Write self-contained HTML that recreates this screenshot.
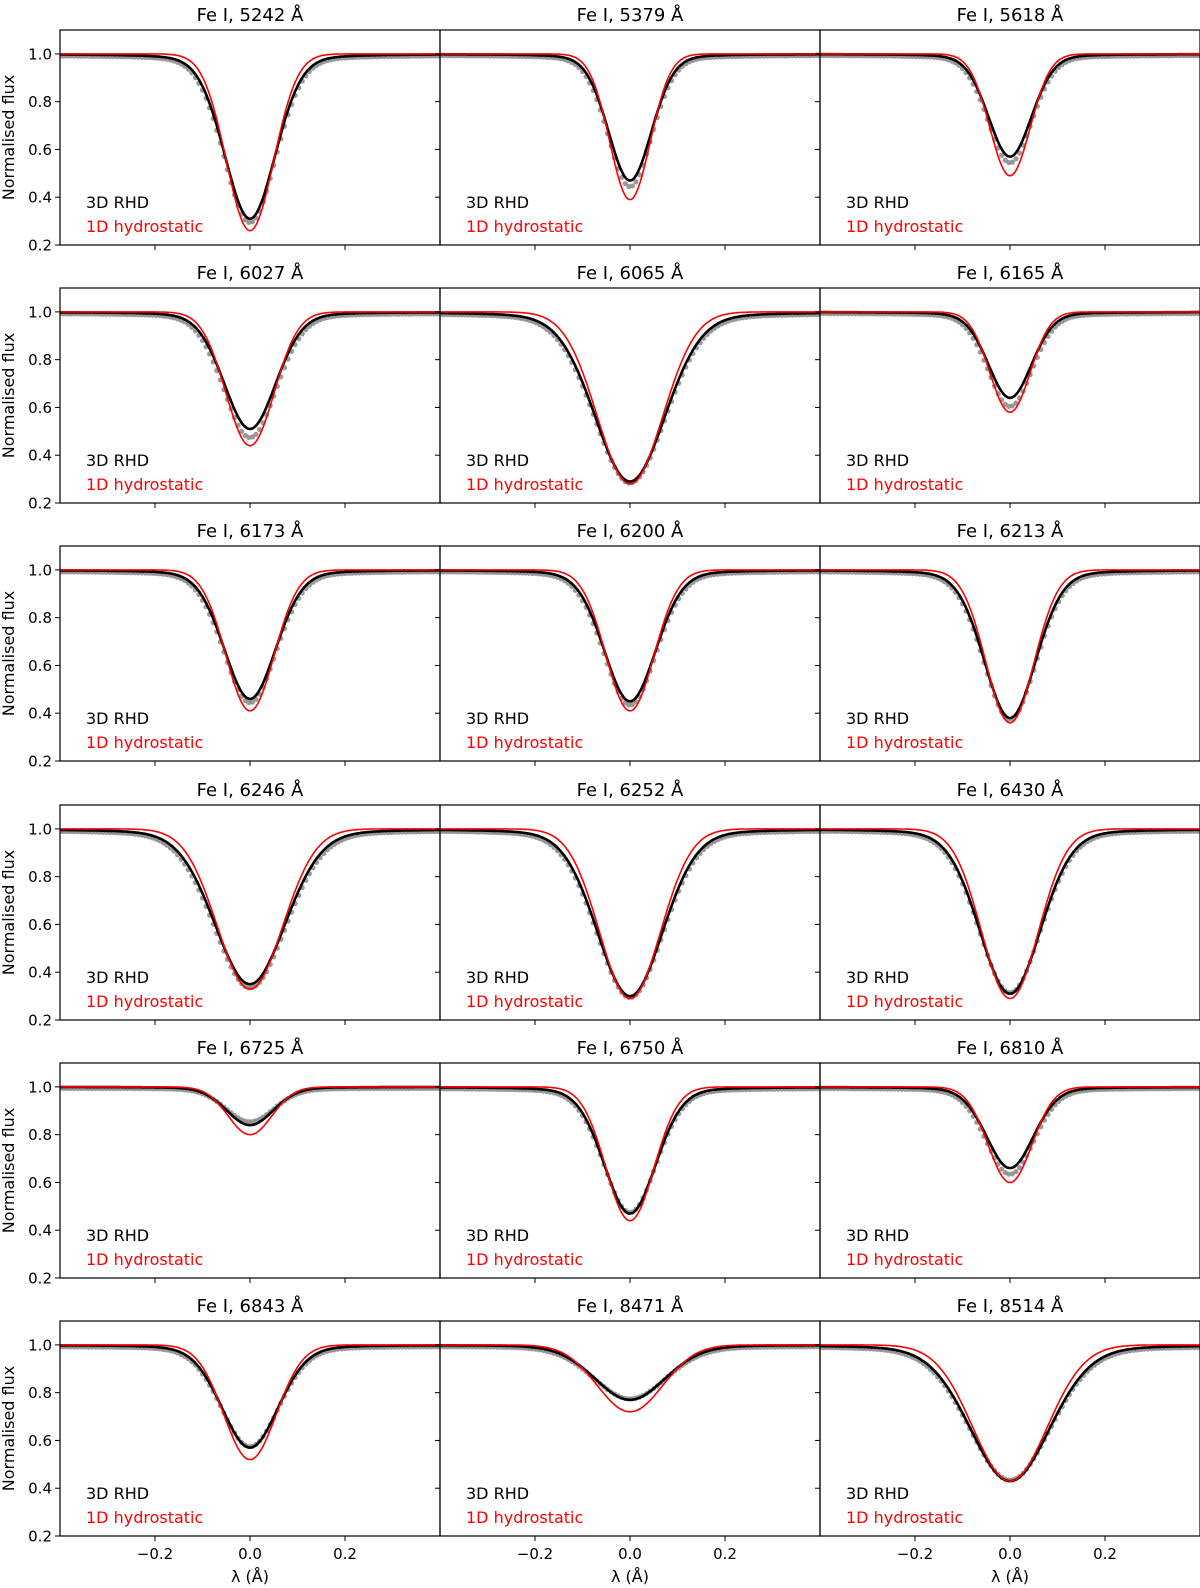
<!DOCTYPE html>
<html><head><meta charset="utf-8"><style>
html,body{margin:0;padding:0;background:#fff}
svg{display:block;font-family:"DejaVu Sans","Liberation Sans",sans-serif}
</style></head><body>
<svg id="fig" width="1200" height="1588" viewBox="0 0 1200 1588" xmlns="http://www.w3.org/2000/svg"></svg>
<script>
const lineLabels=["5242","5379","5618","6027","6065","6165","6173","6200","6213","6246","6252","6430","6725","6750","6810","6843","8471","8514"];
const minBlack=[0.31,0.47,0.57,0.51,0.29,0.64,0.46,0.45,0.38,0.35,0.30,0.31,0.84,0.47,0.66,0.57,0.77,0.43];
const minRed=[0.26,0.39,0.49,0.44,0.28,0.58,0.41,0.41,0.36,0.33,0.29,0.29,0.80,0.44,0.60,0.52,0.72,0.43];
const minGrey=[0.30,0.45,0.55,0.48,0.29,0.61,0.45,0.44,0.38,0.34,0.30,0.32,0.86,0.48,0.64,0.58,0.78,0.44];
const widthBlack=[0.054,0.046,0.046,0.055,0.075,0.046,0.055,0.055,0.055,0.075,0.070,0.065,0.050,0.055,0.050,0.060,0.075,0.085];
const yTicks=[0.2,0.4,0.6,0.8,1.0];
const xTicks=[-0.2,0.0,0.2];
const yTickLabels=["0.2","0.4","0.6","0.8","1.0"];
const xTickLabels=["\u22120.2","0.0","0.2"];

const NS="http://www.w3.org/2000/svg";
const svg=document.getElementById('fig');
const colX=[60,440,820], colW=380, rowY=[30,288,546,805,1063,1321], rowH=215;
function mk(tag,attrs,parent){const e=document.createElementNS(NS,tag);for(const k in attrs)e.setAttribute(k,attrs[k]);(parent||svg).appendChild(e);return e;}
function prof(x,mn,s,eta){const d=1-mn;const G=Math.exp(-x*x/(2*s*s));const L=1/(1+x*x/(1.4*s*s));return 1-d*((1-eta)*G+eta*L);}

for(let i=0;i<18;i++){
  const c=i%3,r=Math.floor(i/3);
  const X0=colX[c],Y0=rowY[r];
  const sx=v=>X0+(v+0.4)/0.8*colW;
  const sy=v=>Y0+(1.1-v)/0.9*rowH;
  const g=mk('g',{});
  
  
  const clipId='clip'+i;
  const cp=mk('clipPath',{id:clipId},g);mk('rect',{x:X0,y:Y0,width:colW,height:rowH},cp);
  const t=mk('text',{x:X0+colW/2,y:Y0-9,'text-anchor':'middle','font-size':18},g);
  t.textContent='Fe I, '+lineLabels[i]+' \u00C5';
  
  
  const obs=mk('g',{'clip-path':'url(#'+clipId+')',fill:'#888','fill-opacity':0.85},g);
  
  
  const sB=widthBlack[i], sR=sB*0.92;
  for(let x=-0.4;x<=0.4;x+=0.0075){
    let v=prof(x,minGrey[i],sB*1.02,0.15)-0.006;
    mk('circle',{cx:sx(x),cy:sy(v),r:2.6},obs);
  }
  let pb='',pr='';
  for(let k=0;k<=400;k++){const x=-0.4+0.8*k/400;
    pb+=(k?'L':'M')+sx(x).toFixed(1)+','+sy(prof(x,minBlack[i],sB,0.15)).toFixed(1);
    pr+=(k?'L':'M')+sx(x).toFixed(1)+','+sy(prof(x,minRed[i],sR,0.0)).toFixed(1);}
  const lb=mk('path',{d:pb,fill:'none',stroke:'#000','stroke-width':2.6,'clip-path':'url(#'+clipId+')'},g);
  
  
  const lr=mk('path',{d:pr,fill:'none',stroke:'#f00','stroke-width':1.6,'clip-path':'url(#'+clipId+')'},g);
  
  
  const fr=mk('rect',{x:X0,y:Y0,width:colW,height:rowH,fill:'none',stroke:'#000','stroke-width':1.2},g);
  
  
  yTicks.forEach((v,j)=>{mk('line',{x1:X0-5,x2:X0,y1:sy(v),y2:sy(v),stroke:'#000','stroke-width':1},g);
    if(c===0){const tl=mk('text',{x:X0-8,y:sy(v)+5.5,'text-anchor':'end','font-size':15},g);tl.textContent=yTickLabels[j];
      
      }});
  xTicks.forEach((v,j)=>{mk('line',{x1:sx(v),x2:sx(v),y1:Y0+rowH,y2:Y0+rowH+5,stroke:'#000','stroke-width':1},g);
    if(r===5){const tl=mk('text',{x:sx(v),y:Y0+rowH+23,'text-anchor':'middle','font-size':15},g);tl.textContent=xTickLabels[j];
      
      }});
  const l1=mk('text',{x:X0+26,y:Y0+rowH-37,'font-size':16,fill:'#000'},g);l1.textContent='3D RHD';
  
  
  const l2=mk('text',{x:X0+26,y:Y0+rowH-13,'font-size':16,fill:'#f00'},g);l2.textContent='1D hydrostatic';
  
  
  if(c===0){const yl=mk('text',{x:0,y:0,'font-size':16,'text-anchor':'middle',transform:'translate(14,'+(Y0+rowH/2)+') rotate(-90)'},g);yl.textContent='Normalised flux';
    
    }
  if(r===5){const xl=mk('text',{x:sx(0),y:1582,'font-size':16,'text-anchor':'middle'},g);xl.textContent='\u03BB (\u00C5)';
    
    }
}
</script>
</body></html>
